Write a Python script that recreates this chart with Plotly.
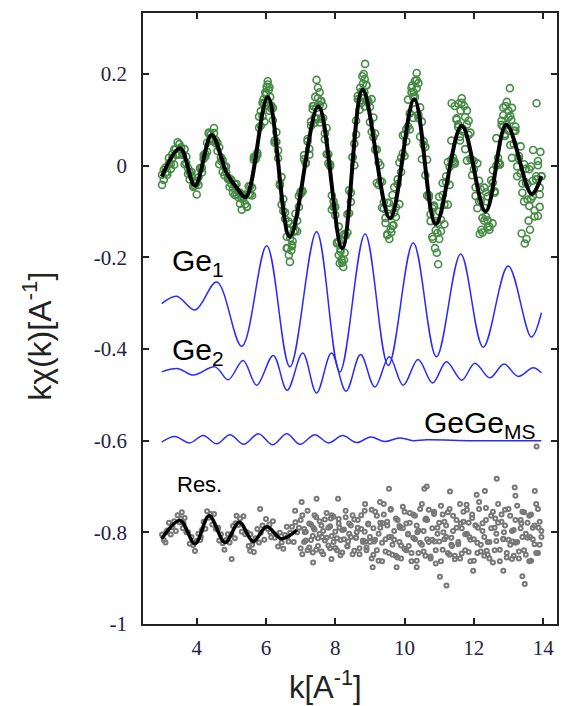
import plotly.graph_objects as go

# sampled k grid of the measured spectrum
k_data = [
    3.00, 3.05, 3.10, 3.15, 3.20, 3.25, 3.30, 3.35, 3.40, 3.45,
    3.50, 3.55, 3.60, 3.65, 3.70, 3.75, 3.80, 3.85, 3.90, 3.95,
    4.00, 4.05, 4.10, 4.15, 4.20, 4.25, 4.30, 4.35, 4.40, 4.45,
    4.50, 4.55, 4.60, 4.65, 4.70, 4.75, 4.80, 4.85, 4.90, 4.95,
    5.00, 5.05, 5.10, 5.15, 5.20, 5.25, 5.30, 5.35, 5.40, 5.45,
    5.50, 5.55, 5.60, 5.65, 5.70, 5.75, 5.80, 5.85, 5.90, 5.95,
    6.00, 6.05, 6.10, 6.15, 6.20, 6.25, 6.30, 6.35, 6.40, 6.45,
    6.50, 6.55, 6.60, 6.65, 6.70, 6.75, 6.80, 6.85, 6.90, 6.95,
    7.00, 7.05, 7.10, 7.15, 7.20, 7.25, 7.30, 7.35, 7.40, 7.45,
    7.50, 7.55, 7.60, 7.65, 7.70, 7.75, 7.80, 7.85, 7.90, 7.95,
    8.00, 8.05, 8.10, 8.15, 8.20, 8.25, 8.30, 8.35, 8.40, 8.45,
    8.50, 8.55, 8.60, 8.65, 8.70, 8.75, 8.80, 8.85, 8.90, 8.95,
    9.00, 9.05, 9.10, 9.15, 9.20, 9.25, 9.30, 9.35, 9.40, 9.45,
    9.50, 9.55, 9.60, 9.65, 9.70, 9.75, 9.80, 9.85, 9.90, 9.95,
    10.00, 10.05, 10.10, 10.15, 10.20, 10.25, 10.30, 10.35, 10.40, 10.45,
    10.50, 10.55, 10.60, 10.65, 10.70, 10.75, 10.80, 10.85, 10.90, 10.95,
    11.00, 11.05, 11.10, 11.15, 11.20, 11.25, 11.30, 11.35, 11.40, 11.45,
    11.50, 11.55, 11.60, 11.65, 11.70, 11.75, 11.80, 11.85, 11.90, 11.95,
    12.00, 12.05, 12.10, 12.15, 12.20, 12.25, 12.30, 12.35, 12.40, 12.45,
    12.50, 12.55, 12.60, 12.65, 12.70, 12.75, 12.80, 12.85, 12.90, 12.95,
    13.00, 13.05, 13.10, 13.15, 13.20, 13.25, 13.30, 13.35, 13.40, 13.45,
    13.50, 13.55, 13.60, 13.65, 13.70, 13.75, 13.80, 13.85, 13.90, 13.95,
]

# experimental k*chi(k), scan A (green circles)
chi_exp = [
    -0.020, -0.031, -0.004, -0.014, 0.005, -0.007, 0.017, 0.035, 0.024, 0.024,
    0.047, 0.040, 0.024, 0.036, 0.005, -0.018, -0.015, -0.022, -0.046, -0.044,
    -0.037, -0.042, -0.006, -0.005, 0.023, 0.020, 0.050, 0.070, 0.060, 0.054,
    0.071, 0.056, 0.032, 0.040, 0.010, -0.014, -0.002, -0.002, -0.027, -0.028,
    -0.040, -0.059, -0.041, -0.063, -0.058, -0.083, -0.072, -0.066, -0.084, -0.089,
    -0.045, -0.045, -0.048, 0.019, 0.014, 0.023, 0.083, 0.119, 0.108, 0.136,
    0.155, 0.131, 0.171, 0.125, 0.126, 0.055, 0.052, 0.033, -0.039, -0.085,
    -0.073, -0.116, -0.155, -0.122, -0.158, -0.173, -0.132, -0.105, -0.120, -0.090,
    -0.057, -0.057, 0.014, 0.007, 0.053, 0.037, 0.087, 0.123, 0.105, 0.102,
    0.147, 0.132, 0.102, 0.130, 0.070, 0.025, 0.025, 0.003, -0.065, -0.090,
    -0.108, -0.167, -0.133, -0.183, -0.162, -0.206, -0.152, -0.106, -0.104, -0.079,
    0.019, 0.048, 0.068, 0.152, 0.142, 0.137, 0.179, 0.189, 0.142, 0.138,
    0.128, 0.074, 0.105, 0.035, 0.035, -0.042, -0.034, -0.035, -0.094, -0.125,
    -0.081, -0.105, -0.138, -0.064, -0.102, -0.112, -0.040, 0.007, -0.014, 0.027,
    0.068, 0.053, 0.144, 0.114, 0.160, 0.104, 0.150, 0.169, 0.104, 0.063,
    0.096, 0.045, -0.021, 0.013, -0.069, -0.121, -0.093, -0.087, -0.141, -0.125,
    -0.100, -0.143, -0.038, -0.085, -0.023, -0.085, -0.003, 0.055, 0.010, 0.004,
    0.103, 0.090, 0.055, 0.147, 0.079, 0.036, 0.090, 0.098, 0.015, 0.012,
    0.010, -0.066, 0.005, -0.078, -0.052, -0.146, -0.092, -0.058, -0.119, -0.133,
    -0.032, -0.037, -0.056, 0.060, 0.017, 0.004, 0.089, 0.127, 0.069, 0.089,
    0.105, 0.045, 0.126, 0.047, 0.076, -0.023, 0.021, 0.042, -0.039, -0.078,
    -0.007, -0.040, -0.088, -0.002, -0.067, -0.098, -0.023, 0.010, -0.048, -0.023,
]

# experimental k*chi(k), scan B (same k grid)
chi_exp_b = [
    -0.042, -0.009, -0.016, -0.020, 0.017, 0.003, 0.026, 0.002, 0.037, 0.051,
    0.025, 0.037, 0.024, 0.003, 0.020, -0.005, -0.030, -0.014, -0.045, -0.033,
    -0.063, -0.026, -0.005, -0.015, 0.015, 0.026, 0.030, 0.072, 0.068, 0.057,
    0.082, 0.049, 0.050, 0.003, 0.018, 0.012, -0.021, -0.014, -0.029, -0.046,
    -0.031, -0.048, -0.064, -0.040, -0.069, -0.059, -0.096, -0.070, -0.063, -0.090,
    -0.063, -0.063, -0.065, 0.013, 0.021, 0.028, 0.107, 0.087, 0.137, 0.096,
    0.158, 0.177, 0.120, 0.131, 0.099, 0.050, 0.073, 0.016, -0.043, -0.025,
    -0.099, -0.102, -0.180, -0.140, -0.127, -0.176, -0.144, -0.141, -0.143, -0.066,
    -0.062, -0.055, 0.023, 0.005, 0.058, 0.024, 0.096, 0.130, 0.093, 0.126,
    0.117, 0.094, 0.141, 0.104, 0.057, 0.082, 0.005, -0.001, -0.096, -0.078,
    -0.090, -0.170, -0.165, -0.188, -0.212, -0.150, -0.152, -0.146, -0.054, -0.059,
    0.018, 0.001, 0.098, 0.145, 0.122, 0.161, 0.153, 0.129, 0.176, 0.142,
    0.095, 0.145, 0.062, 0.070, -0.038, 0.007, 0.001, -0.092, -0.080, -0.114,
    -0.152, -0.081, -0.109, -0.131, -0.047, -0.091, -0.030, -0.084, 0.017, 0.066,
    0.021, 0.080, 0.086, 0.079, 0.170, 0.150, 0.123, 0.187, 0.111, 0.127,
    0.014, 0.053, 0.041, -0.065, -0.064, -0.106, -0.155, -0.090, -0.121, -0.147,
    -0.068, -0.118, -0.064, -0.128, -0.036, 0.008, -0.042, 0.013, 0.017, 0.008,
    0.100, 0.084, 0.063, 0.137, 0.074, 0.106, 0.011, 0.067, 0.072, -0.021,
    -0.008, -0.047, -0.093, -0.033, -0.076, -0.114, -0.048, -0.111, -0.067, -0.140,
    -0.051, -0.010, -0.059, 0.000, 0.006, 0.002, 0.098, 0.085, 0.065, 0.139,
    0.076, 0.109, 0.017, 0.076, 0.085, -0.002, 0.015, -0.017, -0.059, 0.003,
    -0.037, -0.074, -0.008, -0.073, -0.033, -0.111, -0.030, 0.001, -0.063, -0.023,
]

# further measured points (mostly around the extrema)
k_exp2 = [5.93, 5.98, 6.02, 6.05, 6.08, 6.12, 6.62, 6.66, 6.69, 6.73, 6.77,
          7.38, 7.42, 7.46, 7.50, 7.55, 7.58, 8.10, 8.13, 8.18, 8.23, 8.27,
          8.72, 8.78, 8.82, 8.84, 8.86, 8.90, 9.50, 9.56, 9.62, 9.68,
          10.22, 10.26, 10.30, 10.35, 10.40, 10.82, 10.88, 10.93, 10.97, 11.00,
          11.36, 11.45, 11.55, 11.62, 11.72, 11.80, 12.17, 12.22, 12.30, 12.40, 12.54,
          12.85, 12.92, 13.00, 13.04, 13.08, 13.38, 13.47, 13.52, 13.58, 13.62,
          13.71, 13.81, 13.85, 13.90, 13.92]
chi_exp2 = [0.145, 0.160, 0.172, 0.184, 0.165, 0.150, -0.180, -0.195, -0.210, -0.185, -0.165,
            0.130, 0.150, 0.187, 0.170, 0.160, 0.140, -0.195, -0.213, -0.205, -0.221, -0.190,
            0.170, 0.195, 0.200, 0.160, 0.222, 0.175, -0.150, -0.160, -0.145, -0.130,
            0.175, 0.160, 0.185, 0.202, 0.180, -0.160, -0.180, -0.190, -0.215, -0.160,
            0.136, 0.130, 0.135, 0.120, 0.130, 0.120, -0.149, -0.140, -0.120, -0.135, -0.126,
            0.110, 0.130, 0.120, 0.169, 0.100, -0.148, -0.170, -0.160, -0.120, -0.140,
            0.034, 0.136, -0.110, -0.090, 0.030]

# fitted curve (black)
k_fit = [2.99, 3.52, 3.95, 4.43, 4.87, 5.15, 5.42, 6.05, 6.69, 7.51, 8.20, 8.79,
         9.58, 10.28, 10.90, 11.65, 12.34, 12.94, 13.67, 13.95]
chi_fit = [-0.024, 0.038, -0.044, 0.067, -0.017, -0.048, -0.068, 0.149, -0.155, 0.129,
           -0.180, 0.165, -0.115, 0.145, -0.127, 0.087, -0.100, 0.089, -0.062, -0.023]

# Ge1 shell contribution (offset)
k_ge1 = [2.99, 3.42, 3.95, 4.58, 5.30, 6.02, 6.69, 7.46, 8.13, 8.86, 9.53,
         10.25, 10.92, 11.62, 12.27, 12.99, 13.66, 13.95]
chi_ge1 = [-0.301, -0.285, -0.315, -0.254, -0.394, -0.175, -0.439, -0.144, -0.450,
           -0.149, -0.436, -0.168, -0.417, -0.193, -0.396, -0.219, -0.374, -0.321]

# Ge2 shell contribution (offset)
k_ge2 = [2.99, 3.47, 3.90, 4.53, 4.91, 5.34, 5.73, 6.21, 6.61, 7.06, 7.46, 7.89,
         8.31, 8.73, 9.14, 9.56, 9.96, 10.39, 10.81, 11.21, 11.65, 12.03, 12.46,
         12.87, 13.28, 13.71, 13.95]
chi_ge2 = [-0.450, -0.443, -0.457, -0.439, -0.467, -0.425, -0.479, -0.414, -0.490,
           -0.409, -0.496, -0.409, -0.492, -0.412, -0.483, -0.417, -0.479, -0.423,
           -0.474, -0.428, -0.468, -0.431, -0.463, -0.433, -0.460, -0.441, -0.452]

# GeGe multiple scattering contribution (offset)
k_ms = [2.99, 3.37, 3.79, 4.19, 4.58, 4.96, 5.36, 5.78, 6.19, 6.60, 6.98, 7.41,
        7.80, 8.21, 8.62, 9.02, 9.43, 9.85, 10.25, 10.64, 12.00, 13.95]
chi_ms = [-0.603, -0.591, -0.605, -0.589, -0.607, -0.587, -0.608, -0.585, -0.609,
          -0.585, -0.608, -0.587, -0.605, -0.589, -0.604, -0.592, -0.602, -0.594,
          -0.600, -0.598, -0.600, -0.600]

# residual (offset), same k grid as k_data
chi_res = [
    -0.805, -0.817, -0.822, -0.796, -0.779, -0.805, -0.789, -0.776, -0.797, -0.763,
    -0.778, -0.770, -0.791, -0.769, -0.800, -0.800, -0.825, -0.810, -0.828, -0.841,
    -0.819, -0.803, -0.817, -0.795, -0.777, -0.792, -0.754, -0.768, -0.760, -0.783,
    -0.760, -0.792, -0.793, -0.818, -0.804, -0.824, -0.838, -0.817, -0.804, -0.822,
    -0.804, -0.786, -0.813, -0.764, -0.784, -0.770, -0.799, -0.765, -0.804, -0.800,
    -0.830, -0.804, -0.827, -0.843, -0.813, -0.793, -0.822, -0.801, -0.785, -0.816,
    -0.771, -0.793, -0.783, -0.811, -0.776, -0.812, -0.805, -0.831, -0.801, -0.822,
    -0.836, -0.806, -0.788, -0.820, -0.801, -0.788, -0.821, -0.778, -0.800, -0.790,
    -0.835, -0.763, -0.821, -0.799, -0.839, -0.781, -0.817, -0.844, -0.794, -0.767,
    -0.830, -0.803, -0.785, -0.848, -0.772, -0.812, -0.790, -0.835, -0.763, -0.821,
    -0.799, -0.839, -0.781, -0.817, -0.844, -0.794, -0.767, -0.830, -0.803, -0.785,
    -0.848, -0.772, -0.812, -0.790, -0.835, -0.763, -0.821, -0.799, -0.839, -0.781,
    -0.821, -0.857, -0.791, -0.755, -0.839, -0.803, -0.779, -0.863, -0.761, -0.815,
    -0.785, -0.845, -0.749, -0.827, -0.797, -0.851, -0.773, -0.821, -0.857, -0.791,
    -0.755, -0.839, -0.803, -0.779, -0.863, -0.761, -0.815, -0.785, -0.845, -0.749,
    -0.827, -0.797, -0.851, -0.773, -0.821, -0.857, -0.791, -0.755, -0.839, -0.803,
    -0.779, -0.863, -0.761, -0.815, -0.785, -0.845, -0.749, -0.827, -0.797, -0.851,
    -0.773, -0.821, -0.857, -0.791, -0.755, -0.839, -0.803, -0.779, -0.863, -0.761,
    -0.815, -0.785, -0.845, -0.749, -0.827, -0.797, -0.851, -0.773, -0.821, -0.857,
    -0.791, -0.755, -0.839, -0.803, -0.779, -0.863, -0.761, -0.815, -0.785, -0.845,
    -0.749, -0.827, -0.797, -0.851, -0.773, -0.821, -0.857, -0.791, -0.755, -0.839,
    -0.803, -0.779, -0.863, -0.761, -0.815, -0.785, -0.845, -0.749, -0.827, -0.797,
]

# residual, scan B, k >= 7 (k_data[80:])
chi_res_b = [
    -0.773, -0.848, -0.793, -0.818, -0.753, -0.833, -0.783, -0.808, -0.763, -0.838,
    -0.813, -0.776, -0.842, -0.797, -0.818, -0.758, -0.829, -0.787, -0.808, -0.766,
    -0.834, -0.813, -0.771, -0.850, -0.795, -0.815, -0.753, -0.831, -0.781, -0.810,
    -0.763, -0.840, -0.812, -0.773, -0.848, -0.793, -0.818, -0.753, -0.833, -0.783,
    -0.810, -0.751, -0.849, -0.816, -0.764, -0.862, -0.790, -0.823, -0.738, -0.842,
    -0.777, -0.810, -0.751, -0.849, -0.816, -0.770, -0.855, -0.786, -0.829, -0.744,
    -0.836, -0.781, -0.805, -0.758, -0.845, -0.812, -0.764, -0.862, -0.796, -0.823,
    -0.738, -0.842, -0.772, -0.815, -0.751, -0.853, -0.816, -0.760, -0.868, -0.790,
    -0.820, -0.742, -0.838, -0.777, -0.810, -0.756, -0.849, -0.812, -0.764, -0.859,
    -0.790, -0.826, -0.738, -0.846, -0.777, -0.804, -0.751, -0.843, -0.816, -0.769,
    -0.862, -0.785, -0.823, -0.734, -0.842, -0.780, -0.810, -0.747, -0.849, -0.821,
    -0.764, -0.866, -0.790, -0.819, -0.738, -0.838, -0.777, -0.814, -0.751, -0.855,
    -0.816, -0.764, -0.858, -0.795, -0.823, -0.742, -0.842, -0.773, -0.810, -0.756,
    -0.849, -0.812, -0.764, -0.862, -0.790, -0.826, -0.738, -0.845, -0.777, -0.810,
]

k_res2 = [3.57, 5.83, 5.01, 5.54, 7.36, 7.89, 6.84, 7.03, 7.46, 8.08, 8.86, 9.29,
          9.55, 10.57, 10.64, 11.31, 11.79, 12.08, 12.32, 12.66, 13.18, 13.20, 13.76,
          9.08, 9.77, 10.35, 11.02, 11.21, 11.98, 12.85, 13.40, 13.47, 13.81,
          7.12, 7.62, 8.12, 8.37, 8.62, 9.12, 9.37, 9.62, 9.87, 10.12, 10.37, 10.62,
          10.87, 11.12, 11.37, 11.62, 11.87, 12.12, 12.37, 12.62, 12.87, 13.12, 13.37,
          13.62, 13.87, 7.37, 7.87, 8.87, 6.12, 6.62, 5.12, 5.62, 4.12, 4.62, 3.62, 3.12]
chi_res2 = [-0.756, -0.749, -0.858, -0.840, -0.866, -0.858, -0.753, -0.734, -0.727, -0.727,
            -0.738, -0.734, -0.705, -0.705, -0.700, -0.711, -0.740, -0.718, -0.710, -0.683,
            -0.702, -0.720, -0.710, -0.876, -0.876, -0.876, -0.897, -0.916, -0.884, -0.884,
            -0.896, -0.913, -0.613,
            -0.800, -0.810, -0.790, -0.820, -0.800, -0.820, -0.780, -0.810, -0.790, -0.830,
            -0.800, -0.770, -0.820, -0.800, -0.830, -0.780, -0.810, -0.790, -0.840, -0.770,
            -0.800, -0.820, -0.780, -0.810, -0.790, -0.790, -0.770, -0.820, -0.800, -0.810,
            -0.780, -0.820, -0.810, -0.790, -0.780, -0.800]

# fit of the residual (black, low k only)
k_res_fit = [2.99, 3.52, 3.95, 4.36, 4.82, 5.23, 5.63, 6.02, 6.45, 6.89]
chi_res_fit = [-0.814, -0.774, -0.825, -0.764, -0.822, -0.778, -0.820, -0.788, -0.814, -0.795]

green = '#458a45'
blue = '#2a2aff'
grey = '#777777'

fig = go.Figure()

res_marker = dict(symbol='circle-open', size=4, color=grey, line=dict(width=2))
fig.add_trace(go.Scatter(x=k_data, y=chi_res, mode='markers', marker=res_marker))
fig.add_trace(go.Scatter(x=k_data[80:], y=chi_res_b, mode='markers', marker=res_marker))
fig.add_trace(go.Scatter(x=k_res2, y=chi_res2, mode='markers', marker=res_marker))
fig.add_trace(go.Scatter(x=k_res_fit, y=chi_res_fit, mode='lines', line_shape='spline',
                         line=dict(color='black', width=3.5)))

for kk, vv in [(k_ge1, chi_ge1), (k_ge2, chi_ge2), (k_ms, chi_ms)]:
    fig.add_trace(go.Scatter(x=kk, y=vv, mode='lines', line_shape='spline',
                             line=dict(color=blue, width=1.5)))

exp_marker = dict(symbol='circle-open', size=7, color=green, line=dict(width=1.6))
fig.add_trace(go.Scatter(x=k_data, y=chi_exp, mode='markers', marker=exp_marker))
fig.add_trace(go.Scatter(x=k_data, y=chi_exp_b, mode='markers', marker=exp_marker))
fig.add_trace(go.Scatter(x=k_exp2, y=chi_exp2, mode='markers', marker=exp_marker))
fig.add_trace(go.Scatter(x=k_fit, y=chi_fit, mode='lines', line_shape='spline',
                         line=dict(color='black', width=4)))

lab_font = dict(family='Liberation Sans, Arial', size=30, color='black')
fig.add_annotation(x=3.23, y=-0.212, text='Ge<sub>1</sub>', showarrow=False,
                   xanchor='left', yanchor='middle', font=lab_font)
fig.add_annotation(x=3.23, y=-0.405, text='Ge<sub>2</sub>', showarrow=False,
                   xanchor='left', yanchor='middle', font=lab_font)
fig.add_annotation(x=13.85, y=-0.565, text='GeGe<sub>MS</sub>', showarrow=False,
                   xanchor='right', yanchor='middle', font=lab_font)
fig.add_annotation(x=3.38, y=-0.696, text='Res.', showarrow=False,
                   xanchor='left', yanchor='middle',
                   font=dict(family='Liberation Sans, Arial', size=22, color='black'))

# axis titles
fig.add_annotation(xref='paper', yref='paper', x=-0.256, y=0.47,
                   xanchor='center', yanchor='middle',
                   text='kχ(k)[A<sup>-1</sup>]', textangle=-90, showarrow=False,
                   font=dict(family='Liberation Sans, Arial', size=32, color='#222'))
fig.add_annotation(xref='paper', yref='paper', x=0.442, y=-0.1,
                   xanchor='center', yanchor='middle',
                   text='k[A<sup>-1</sup>]', showarrow=False,
                   font=dict(family='Liberation Sans, Arial', size=31, color='#222'))

tick_font = dict(family='Liberation Serif, Times New Roman', size=21, color='#222244')
axis_common = dict(showline=True, linewidth=1.5, linecolor='#222', mirror='allticks',
                   ticks='inside', ticklen=6, tickwidth=1.5, tickcolor='#222',
                   showgrid=False, zeroline=False, tickfont=tick_font, automargin=False)

fig.update_xaxes(range=[2.45, 14.4], tickvals=[4, 6, 8, 10, 12, 14],
                 ticklabelstandoff=4, **axis_common)
fig.update_yaxes(range=[-1.0, 0.333], tickvals=[-1, -0.8, -0.6, -0.4, -0.2, 0, 0.2],
                 ticktext=['-1', '-0.8', '-0.6', '-0.4', '-0.2', '0', '0.2'],
                 ticklabelstandoff=10, **axis_common)

# the page body adds an 8 px offset, so the figure is 8 px smaller
fig.update_layout(width=561, height=698,
                  margin=dict(l=135, r=12, t=5, b=82, autoexpand=False),
                  plot_bgcolor='white', paper_bgcolor='white', showlegend=False)

fig.write_html("out.html")
